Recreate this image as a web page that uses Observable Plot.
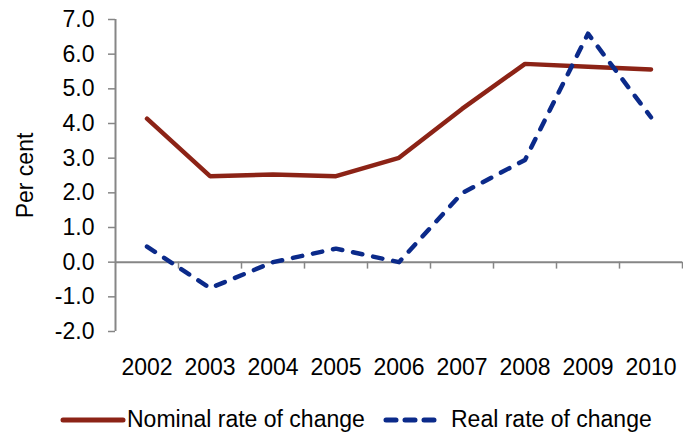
<!DOCTYPE html>
<html>
<head>
<meta charset="utf-8">
<script src="https://cdn.jsdelivr.net/npm/d3@7"></script>
<script src="https://cdn.jsdelivr.net/npm/@observablehq/plot@0.6"></script>
<style>
  html, body { margin: 0; padding: 0; background: #fff; }
  body { width: 683px; height: 439px; overflow: hidden; font-family: "Liberation Sans", Arial, sans-serif; }
  #legend { position: relative; height: 39px; font-size: 23px; color: #000; }
  .item { position: absolute; top: 0; height: 39px; display: flex; align-items: center; }
  .item svg { display: block; margin-right: 3px; }
</style>
</head>
<body>
<div id="chart"></div>
<div id="legend"></div>
<script>
const years = [2002, 2003, 2004, 2005, 2006, 2007, 2008, 2009, 2010];
const nominal = [4.14, 2.48, 2.53, 2.48, 3.01, 4.42, 5.72, 5.64, 5.56];
const real = [0.45, -0.75, 0.0, 0.39, 0.0, 1.99, 2.95, 6.59, 4.18];
const yTicks = [-2, -1, 0, 1, 2, 3, 4, 5, 6, 7];
const seriesNames = ["Nominal rate of change", "Real rate of change"];
const yLabel = "Per cent";

const colors = ["#8C2316", "#0B2A8A"];
const axisGrey = "#868686";
const fontSize = 23;

const data = [];
years.forEach((yr, i) => {
  data.push({year: yr, value: nominal[i], series: seriesNames[0]});
  data.push({year: yr, value: real[i], series: seriesNames[1]});
});
const boundaries = years.map(y => y + 0.5);

const chart = Plot.plot({
  width: 683,
  height: 400,
  marginLeft: 115,
  marginRight: 1,
  marginTop: 19,
  marginBottom: 69,
  style: {fontFamily: '"Liberation Sans", Arial, sans-serif', fontSize: fontSize + "px", color: "#000", background: "#fff"},
  x: {type: "linear", domain: [years[0] - 0.5, years[years.length - 1] + 0.5]},
  y: {domain: [yTicks[0], yTicks[yTicks.length - 1]]},
  marks: [
    Plot.axisY({ticks: yTicks, tickFormat: d => d.toFixed(1), tickSize: 7, tickPadding: 14, stroke: axisGrey, strokeWidth: 1.5, strokeOpacity: 1, fill: "#000", fontSize: fontSize, label: null}),
    Plot.ruleX([years[0] - 0.5], {stroke: axisGrey, strokeWidth: 2}),
    Plot.ruleY([0], {stroke: axisGrey, strokeWidth: 2}),
    Plot.ruleX(boundaries, {x: d => d, y1: 0, y2: -0.2, stroke: axisGrey, strokeWidth: 1.5}),
    Plot.axisX({ticks: years, tickFormat: d => String(d), tickSize: 0, tickPadding: 27, fill: "#000", fontSize: fontSize, label: null}),
    Plot.text([yLabel], {frameAnchor: "left", textAnchor: "middle", dx: -90, rotate: -90, fontSize: fontSize, fill: "#000"}),
    Plot.line(data.filter(d => d.series === seriesNames[0]), {x: "year", y: "value", stroke: colors[0], strokeWidth: 4.5, strokeLinecap: "round", strokeLinejoin: "miter"}),
    Plot.line(data.filter(d => d.series === seriesNames[1]), {x: "year", y: "value", stroke: colors[1], strokeWidth: 4.5, strokeDasharray: "9.5,11", strokeLinecap: "round", strokeLinejoin: "round"})
  ]
});
document.getElementById("chart").appendChild(chart);

const legend = document.getElementById("legend");
const legendPos = [60, 383];
const sampleW = [66, 60];
seriesNames.forEach((name, i) => {
  const item = document.createElement("div");
  item.className = "item";
  item.style.left = legendPos[i] + "px";
  const w = sampleW[i];
  const dash = i === 1 ? 'stroke-dasharray="10,9"' : "";
  const gap = i === 1 ? 8 : 1;
  item.innerHTML = `<svg width="${w}" height="10" style="margin-right:${gap}px"><line x1="3" y1="5" x2="${w - 3}" y2="5" stroke="${colors[i]}" stroke-width="5" stroke-linecap="round" ${dash}/></svg><span>${name}</span>`;
  legend.appendChild(item);
});
</script>
</body>
</html>
